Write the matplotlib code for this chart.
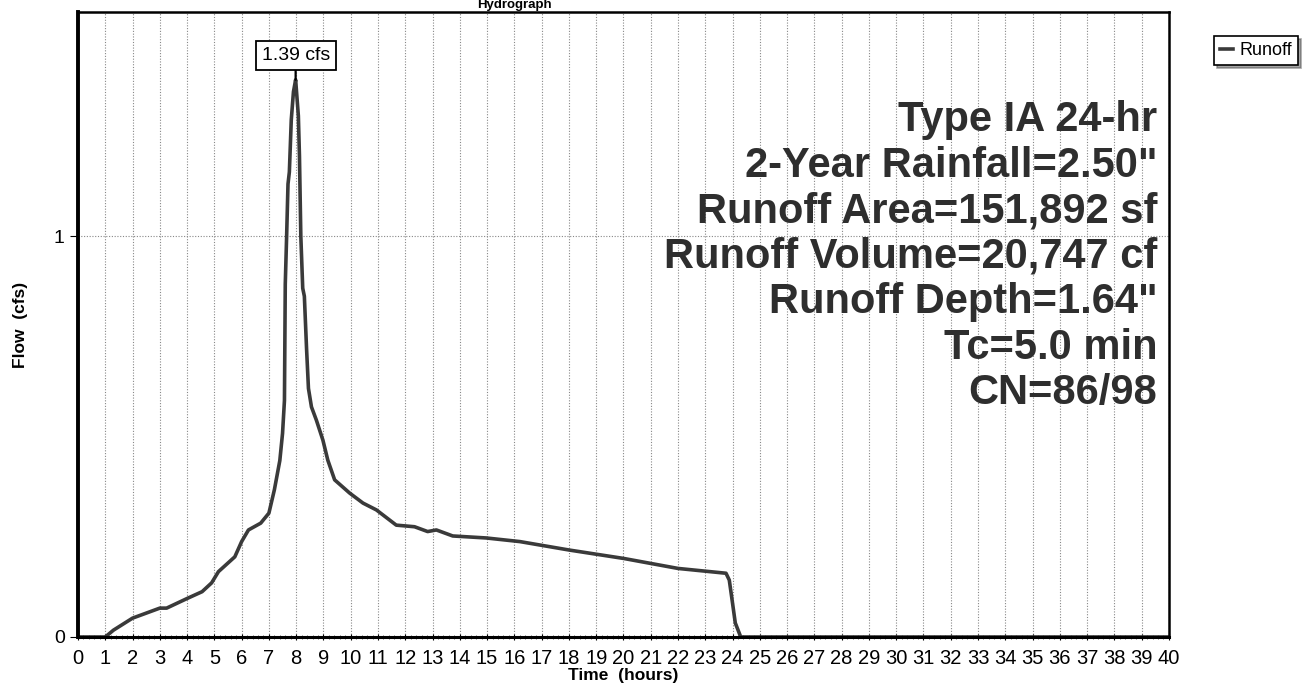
import matplotlib.pyplot as plt
from matplotlib.ticker import MultipleLocator

plt.rcParams['font.family'] = ['Liberation Sans', 'DejaVu Sans']

# Runoff hydrograph (hours, cfs)
time_hr = [0, 1.0, 1.3, 2.0, 3.0, 3.25, 4.0, 4.55, 4.9, 5.15, 5.75, 6.0, 6.25, 6.7,
           7.0, 7.2, 7.4, 7.5, 7.57, 7.6, 7.65, 7.7, 7.75, 7.82, 7.9, 7.98, 8.08,
           8.12, 8.17, 8.24, 8.3, 8.38, 8.45, 8.56, 8.74, 8.98, 9.16, 9.41, 9.96,
           10.45, 10.94, 11.67, 12.34, 12.82, 13.14, 13.74, 14.97, 16.2, 18.0,
           20.0, 22.0, 23.76, 23.88, 24.0, 24.1, 24.3, 40]
flow_cfs = [0, 0, 0.017, 0.047, 0.072, 0.072, 0.096, 0.113, 0.135, 0.163, 0.20,
            0.238, 0.267, 0.284, 0.309, 0.367, 0.44, 0.508, 0.59, 0.88, 1.0, 1.13,
            1.16, 1.29, 1.36, 1.39, 1.30, 1.20, 1.0, 0.87, 0.85, 0.72, 0.62, 0.574,
            0.541, 0.491, 0.441, 0.392, 0.359, 0.334, 0.317, 0.279, 0.275, 0.263,
            0.267, 0.252, 0.247, 0.238, 0.217, 0.196, 0.171, 0.159, 0.142, 0.084,
            0.035, 0, 0]

peak_time = 7.98
peak_flow = 1.39

info_lines = ['Type IA 24-hr', '2-Year Rainfall=2.50"', 'Runoff Area=151,892 sf',
              'Runoff Volume=20,747 cf', 'Runoff Depth=1.64"', 'Tc=5.0 min', 'CN=86/98']

fig = plt.figure(figsize=(13.02, 6.87), dpi=100)
ax = fig.add_axes([0.0599, 0.0728, 0.8379, 0.9097])

ax.plot(time_hr, flow_cfs, color='#3a3a3a', lw=2.6, label='Runoff', solid_joinstyle='round')

ax.set_xlim(0, 40)
ax.set_ylim(0, 1.559)
ax.xaxis.set_major_locator(MultipleLocator(1))
ax.xaxis.set_minor_locator(MultipleLocator(0.2))
ax.set_yticks([0, 1])
ax.tick_params(axis='x', which='major', length=5, width=0.8, labelsize=14.5, pad=6, direction='inout')
ax.tick_params(axis='x', which='minor', length=3, width=0.6, direction='inout', color='#555555')
ax.tick_params(axis='y', length=6, width=0.8, labelsize=14)

ax.grid(axis='x', which='major', linestyle=(0, (1, 1.5)), color='#888888', lw=0.8)
ax.grid(axis='y', which='major', linestyle=(0, (1, 1.5)), color='#888888', lw=0.8)

for side in ['top', 'right']:
    ax.spines[side].set_linewidth(1.8)
ax.spines['left'].set_linewidth(2.8)
ax.spines['bottom'].set_linewidth(2.2)

ax.set_xlabel('Time  (hours)', fontsize=12.5, fontweight='bold', labelpad=0)
ax.set_ylabel('Flow  (cfs)', fontsize=12.5, fontweight='bold', labelpad=19)

# peak label
ax.annotate(f'{peak_flow:.2f} cfs', xy=(peak_time, peak_flow), xytext=(peak_time, 1.43),
            ha='center', va='bottom', fontsize=14,
            bbox=dict(boxstyle='square,pad=0.3', fc='white', ec='black', lw=1.3),
            arrowprops=dict(arrowstyle='-', color='black', lw=1.6, shrinkA=0, shrinkB=0))

# storm info block
for i, line in enumerate(info_lines):
    ax.text(0.9895, 0.827 - i * 0.0728, line, transform=ax.transAxes, ha='right', va='center',
            fontsize=30, fontweight='bold', color='#2e2e2e')

fig.text(0.395, 0.9835, 'Hydrograph', ha='center', va='bottom', fontsize=9.5, fontweight='bold')

leg = fig.legend(loc='upper right', bbox_to_anchor=(0.997, 0.948), fontsize=13, handlelength=0.7,
                 handletextpad=0.35, fancybox=False, shadow=True, borderpad=0.35,
                 borderaxespad=0, edgecolor='black', framealpha=1)
leg.get_frame().set_linewidth(1.2)

fig.savefig('out.png', dpi=100)
